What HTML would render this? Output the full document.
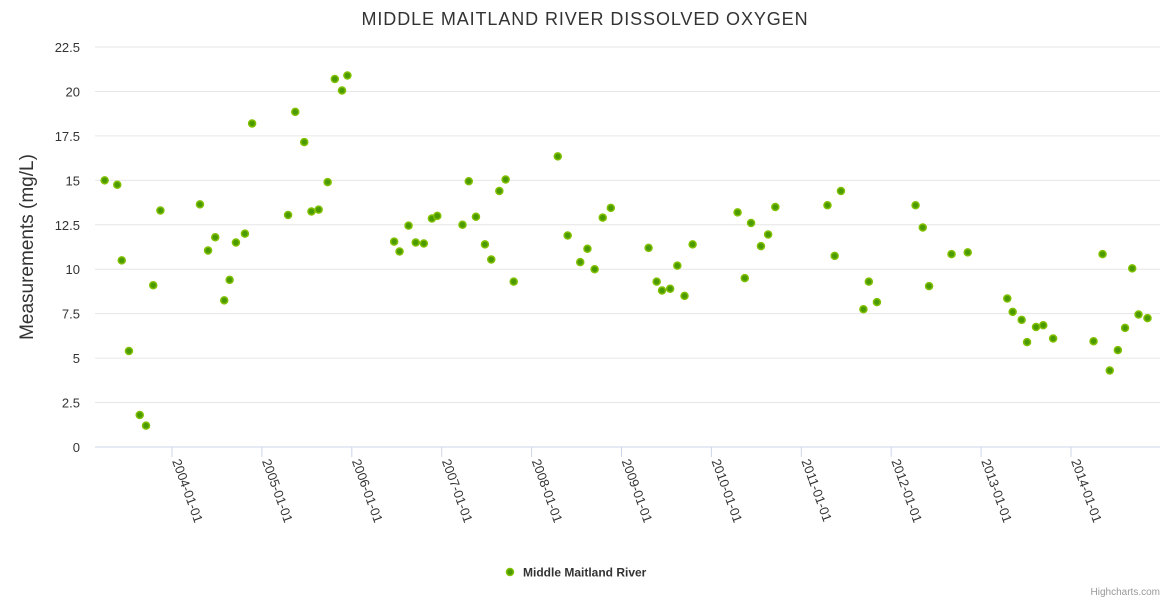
<!DOCTYPE html>
<html><head><meta charset="utf-8"><style>
html,body{margin:0;padding:0;background:#fff;}
svg{display:block;font-family:"Liberation Sans",sans-serif;}
</style></head><body>
<svg id="chart" width="1170" height="600">
<text x="585" y="25" text-anchor="middle" font-size="18" fill="#333" letter-spacing="0.9">MIDDLE MAITLAND RIVER DISSOLVED OXYGEN</text>
<text transform="translate(33,247) rotate(-90)" text-anchor="middle" font-size="19" fill="#333">Measurements (mg/L)</text>
<g id="grid"></g><g id="xaxis"></g><g id="pts"></g>
<g>
<circle cx="510" cy="572" r="3.5" fill="#4a9a00" stroke="#80c000" stroke-width="1.5"/>
<text x="523" y="576.5" font-size="12" font-weight="bold" fill="#333">Middle Maitland River</text>
</g>
<text x="1160" y="595" text-anchor="end" font-size="10" fill="#999">Highcharts.com</text>
</svg>
<script>
const yTicks=[0,2.5,5,7.5,10,12.5,15,17.5,20,22.5];
const xTickYears=[2004,2005,2006,2007,2008,2009,2010,2011,2012,2013,2014];
const xTickLabels=["2004-01-01","2005-01-01","2006-01-01","2007-01-01","2008-01-01","2009-01-01","2010-01-01","2011-01-01","2012-01-01","2013-01-01","2014-01-01"];
const dates=[2003.24,2003.38,2003.43,2003.51,2003.63,2003.70,2003.78,2003.86,2004.30,2004.39,2004.47,2004.57,2004.63,2004.70,2004.80,2004.88,2005.28,2005.36,2005.46,2005.54,2005.62,2005.72,2005.80,2005.88,2005.94,2006.46,2006.52,2006.62,2006.70,2006.79,2006.88,2006.94,2007.22,2007.29,2007.37,2007.47,2007.54,2007.63,2007.70,2007.79,2008.28,2008.39,2008.53,2008.61,2008.69,2008.78,2008.87,2009.29,2009.38,2009.44,2009.53,2009.61,2009.69,2009.78,2010.28,2010.36,2010.43,2010.54,2010.62,2010.70,2011.28,2011.36,2011.43,2011.68,2011.74,2011.83,2012.26,2012.34,2012.41,2012.66,2012.84,2013.28,2013.34,2013.44,2013.50,2013.60,2013.68,2013.79,2014.24,2014.34,2014.42,2014.51,2014.59,2014.67,2014.74,2014.84];
const values=[15.0,14.75,10.5,5.4,1.8,1.2,9.1,13.3,13.65,11.05,11.8,8.25,9.4,11.5,12.0,18.2,13.05,18.85,17.15,13.25,13.35,14.9,20.7,20.05,20.9,11.55,11.0,12.45,11.5,11.45,12.85,13.0,12.5,14.95,12.95,11.4,10.55,14.4,15.05,9.3,16.35,11.9,10.4,11.15,10.0,12.9,13.45,11.2,9.3,8.8,8.9,10.2,8.5,11.4,13.2,9.5,12.6,11.3,11.95,13.5,13.6,10.75,14.4,7.75,9.3,8.15,13.6,12.35,9.05,10.85,10.95,8.35,7.6,7.15,5.9,6.75,6.85,6.1,5.95,10.85,4.3,5.45,6.7,10.05,7.45,7.25];
const NS="http://www.w3.org/2000/svg";
const L=95,R=1160,T=47,B=447;
const x=v=>172+(v-2004)*89.9;
const y=v=>B-(v/22.5)*(B-T);
function mk(tag,attrs,parent){const e=document.createElementNS(NS,tag);for(const k in attrs)e.setAttribute(k,attrs[k]);parent.appendChild(e);return e;}
const grid=document.getElementById('grid'),xa=document.getElementById('xaxis'),pts=document.getElementById('pts');
yTicks.forEach(t=>{
  const ln=mk('line',{x1:L,x2:R,y1:y(t),y2:y(t),stroke:t===0?'#ccd6eb':'#e6e6e6','stroke-width':1},grid);
  
  
  const tx=mk('text',{x:80,y:y(t)+5,'text-anchor':'end','font-size':13,fill:'#333'},grid);
  tx.textContent=String(t);
  
  
});
xTickYears.forEach((yr,i)=>{
  const px=x(yr);
  const tk=mk('line',{x1:px,x2:px,y1:B,y2:B+10,stroke:'#ccd6eb'},xa);
  
  
  const tx=mk('text',{transform:`translate(${px},${B+14}) rotate(70)`,'font-size':13,fill:'#333'},xa);
  tx.textContent=xTickLabels[i];
  
  
});
dates.forEach((d,i)=>{
  const c=mk('circle',{cx:x(d)+1,cy:y(values[i]),r:3.5,fill:'#4a9a00',stroke:'#80c000','stroke-width':1.5},pts);
  
  
});
</script>
</body></html>
